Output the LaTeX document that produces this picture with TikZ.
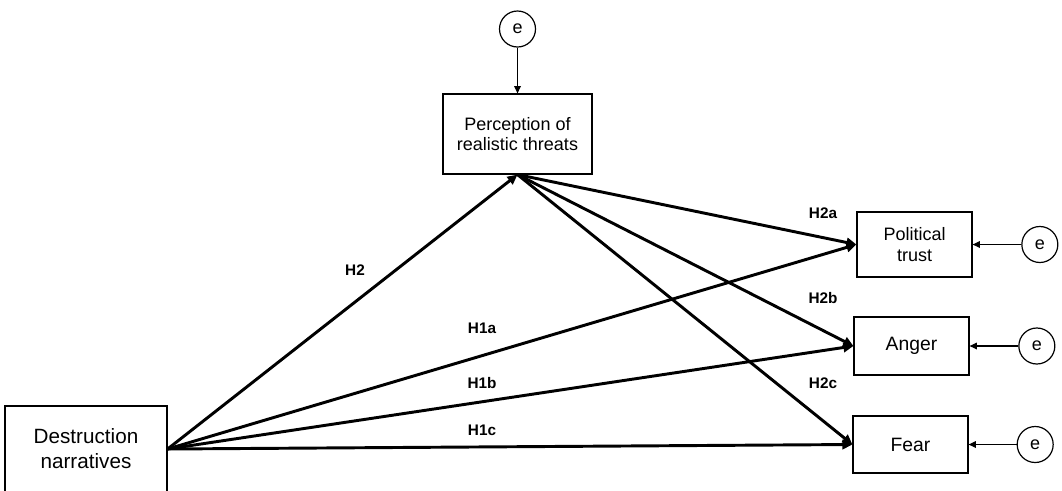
\documentclass[tikz,border=0pt]{standalone}
\usepackage{fontspec}
\setmainfont{Liberation Sans}
\usetikzlibrary{arrows.meta, positioning}

\begin{document}
\begin{tikzpicture}[x=0.75pt, y=-0.75pt, on grid, node distance=94pt,
		box/.style={draw, line width=0.9pt, align=center, inner sep=2pt, minimum width=86.25pt},
		err/.style={draw, circle, line width=0.9pt, minimum size=27pt, inner sep=0pt, font=\fontsize{13.5}{15}\selectfont},
		hpath/.style={-{Triangle[length=7.5pt,width=7pt]}, line width=2.2pt},
		epath/.style={-{Triangle[length=5.5pt,width=5pt]}, line width=0.85pt},
		hyp/.style={font=\bfseries\fontsize{11.5}{13}\selectfont}]
		\useasboundingbox (0,0) rectangle (1062,490);
		
		\node[box, minimum width=121.5pt, minimum height=64.5pt, font=\fontsize{15.5}{18.75}\selectfont] (DN) at (86,449) {Destruction\\narratives};
		\node[box, minimum width=111.75pt, minimum height=60pt, font=\fontsize{13.5}{15}\selectfont] (PR) at (517.5,134) {Perception of\\realistic threats};
		\node[box, minimum height=48.75pt, font=\fontsize{13.5}{16}\selectfont] (PT) at (914.5,244.5) {Political\\trust};
		\node[box, minimum height=43.5pt, font=\fontsize{14.5}{16}\selectfont] (AN) at (911.5,346) {Anger};
		\node[box, minimum height=42.75pt, font=\fontsize{14.5}{16}\selectfont] (FE) at (910.5,444.5) {Fear};
		
		\node[err, above = 78.75pt of PR] (ePR) {e};
		\node[err, right = of PT] (ePT) {e};
		\node[err, right = of AN] (eAN) {e};
		\node[err, right = 93.5pt of FE] (eFE) {e};
		
		\path[epath] (ePR) edge (PR)
		(ePT) edge (PT)
		(eAN) edge (AN)
		(eFE) edge (FE);
		
		\path[hpath] (DN.east) edge (PR.south)
		(DN.east) edge (PT.west)
		(DN.east) edge (AN.west)
		(DN.east) edge (FE.west)
		(PR.south) edge (PT.west)
		(PR.south) edge (AN.west)
		(PR.south) edge (FE.west);
		
		\node[hyp] (lH2) at (355,270) {H2};
		\node[hyp] (lH1a) at (482,328) {H1a};
		\node[hyp] (lH1b) at (482,383) {H1b};
		\node[hyp] (lH1c) at (482,430) {H1c};
		\node[hyp] (lH2a) at (823,213) {H2a};
		\node[hyp] (lH2b) at (823,298) {H2b};
		\node[hyp] (lH2c) at (823,383) {H2c};
		
\end{tikzpicture}
\end{document}
